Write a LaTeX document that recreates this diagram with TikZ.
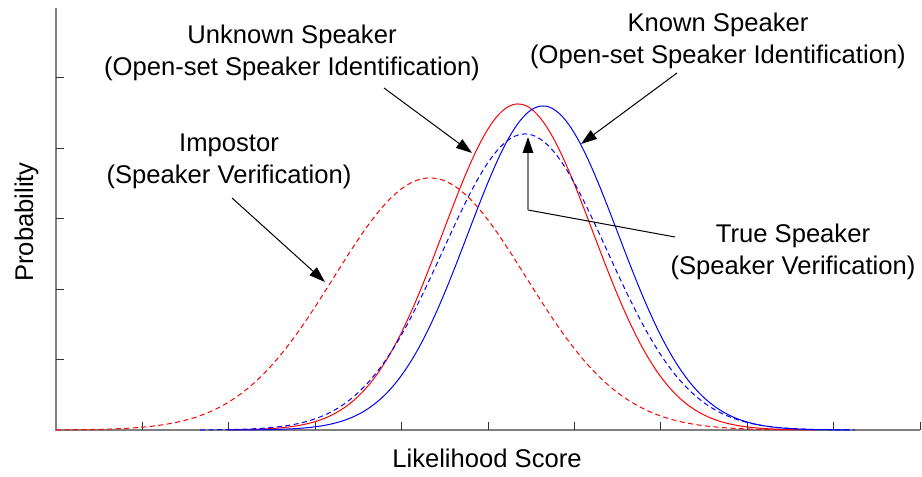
\documentclass[tikz,border=0pt]{standalone}
\usepackage{fontspec}
\setmainfont{Liberation Sans}
\usetikzlibrary{arrows.meta}

\begin{document}
\begin{tikzpicture}[x=0.75pt, y=-0.75pt,
  annot/.style={font=\fontsize{19.2}{24}\selectfont, align=center, inner sep=0pt},
  axtitle/.style={font=\fontsize{19.2}{24}\selectfont, inner sep=0pt, anchor=base},
  axisline/.style={draw=black!50, line width=0.9pt},
  tick/.style={draw=black!80, line width=0.75pt},
  curve/.style={line width=0.75pt},
  dashcurve/.style={curve, dash pattern=on 3.8pt off 2.6pt},
  pointer/.style={draw=black, line width=0.75pt,
    -{Triangle[length=12pt, width=8pt, color=black]}}]
\useasboundingbox (0,0) rectangle (922,477);

% axes and tick marks
\draw[axisline] (56,7.6) -- (56,430) -- (920,430);
\foreach \k in {1,...,10} \draw[tick] (56+86.4*\k,430) -- ++(0,-8);
\foreach \k in {1,...,5} \draw[tick] (56,430-70.4*\k) -- ++(8,0);

% score distributions
\draw[red, dashcurve] plot[domain=56:790, samples=220]
  (\x, {430-252*exp(-0.5*((\x-430)/96)*((\x-430)/96))});
\draw[red, curve] plot[domain=228:815, samples=220]
  (\x, {430-326*exp(-0.5*((\x-518)/75)*((\x-518)/75))});
\draw[blue, curve] plot[domain=228:850, samples=220]
  (\x, {430-324*exp(-0.5*((\x-543)/75)*((\x-543)/75))});
\draw[blue, dashcurve] plot[domain=200:855, samples=220]
  (\x, {430-296*exp(-0.5*((\x-525)/82)*((\x-525)/82))});

% labels
\node[annot] (unk) at (292,53) {Unknown Speaker\\(Open-set Speaker Identification)};
\node[annot] (kn) at (718,41) {Known Speaker\\(Open-set Speaker Identification)};
\node[annot] (imp) at (229,161) {Impostor\\(Speaker Verification)};
\node[annot] (tru) at (793,252) {True Speaker\\(Speaker Verification)};
\node[axtitle] (xl) at (487,468) {Likelihood Score};
\node[axtitle, rotate=90] (yl) at (33,222) {Probability};

% pointer end points
\coordinate (unkS) at (384,88);  \coordinate (unkT) at (472,153);
\coordinate (knS) at (677,73);   \coordinate (knT) at (581,144);
\coordinate (impS) at (232,198); \coordinate (impT) at (325,282);
\coordinate (truS) at (675,237); \coordinate (truC) at (528,210);
\coordinate (truT) at (528,137);

% pointers
\draw[pointer] (unkS) -- (unkT);
\draw[pointer] (knS) -- (knT);
\draw[pointer] (impS) -- (impT);
\draw[black, line width=0.75pt] (truS) -- (truC);
\draw[pointer, draw=black!50, line width=1pt] (truC) -- (truT);
\end{tikzpicture}
\end{document}
